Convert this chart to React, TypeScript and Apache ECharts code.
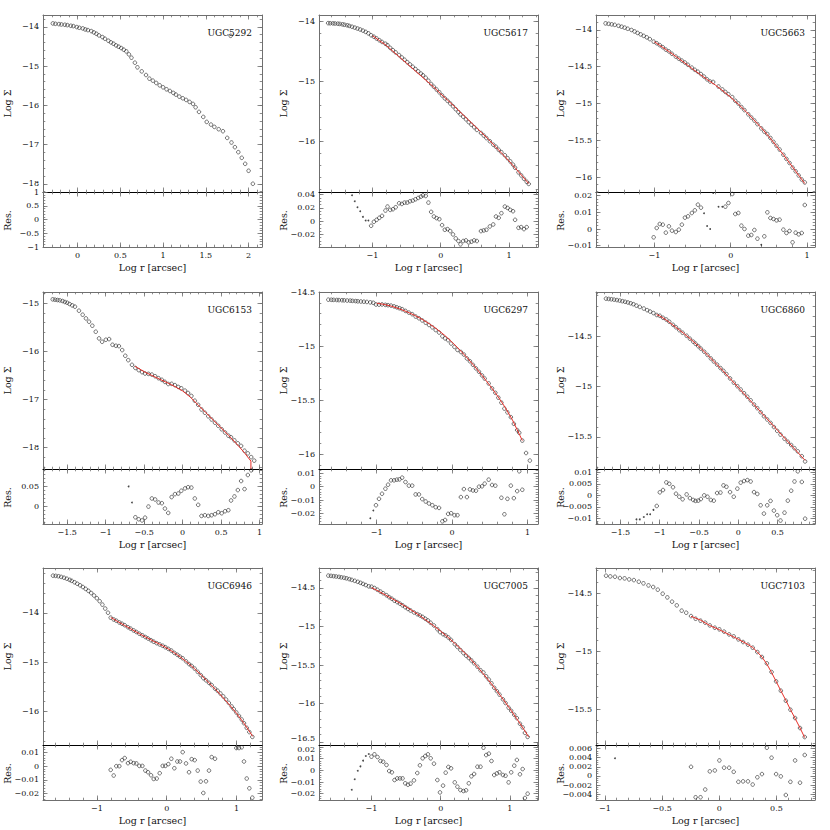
import { useEffect, useRef } from "react";
import * as echarts from "echarts";

type Pt = [number, number];

// ================= DATA (log r [arcsec], log Sigma) =================
const ugc5292Profile: Pt[] = [
  [-0.29,-13.915],[-0.26,-13.924],[-0.22,-13.932],[-0.19,-13.941],[-0.15,-13.949],[-0.12,-13.958],[-0.08,-13.975],[-0.05,-13.983],
  [-0.01,-14.008],[0.02,-14.025],[0.06,-14.042],[0.09,-14.068],[0.12,-14.085],[0.16,-14.11],[0.19,-14.144],[0.22,-14.178],
  [0.25,-14.22],[0.29,-14.263],[0.32,-14.305],[0.36,-14.356],[0.39,-14.398],[0.42,-14.432],[0.45,-14.475],[0.48,-14.508],
  [0.51,-14.542],[0.54,-14.585],[0.57,-14.627],[0.6,-14.703],[0.63,-14.788],[0.67,-14.915],[0.7,-15.034],[0.75,-15.136],
  [0.8,-15.229],[0.84,-15.322],[0.88,-15.373],[0.92,-15.432],[0.96,-15.492],[1.0,-15.542],[1.04,-15.593],[1.08,-15.636],
  [1.12,-15.686],[1.15,-15.729],[1.19,-15.78],[1.23,-15.822],[1.27,-15.864],[1.31,-15.915],[1.35,-15.966],[1.38,-16.051],
  [1.42,-16.169],[1.47,-16.297],[1.51,-16.424],[1.56,-16.492],[1.6,-16.551],[1.65,-16.61],[1.7,-16.661],[1.75,-16.831],
  [1.8,-16.949],[1.84,-17.068],[1.88,-17.195],[1.92,-17.339],[1.96,-17.492],[2.0,-17.669],[2.05,-18.0],
];
const ugc5292Stray: Pt[] = [[1.79, -14.23]];
const ugc5292XTicks = [0, 0.5, 1, 1.5, 2];
const ugc5292YTicks = [-14, -15, -16, -17, -18];
const ugc5292RTicks = [-1, -0.5, 0, 0.5, 1];

const ugc5617Profile: Pt[] = [
  [-1.65,-14.03],[-1.62,-14.032],[-1.58,-14.034],[-1.55,-14.036],[-1.51,-14.039],[-1.48,-14.043],[-1.44,-14.05],[-1.41,-14.057],
  [-1.37,-14.066],[-1.34,-14.076],[-1.3,-14.09],[-1.26,-14.105],[-1.22,-14.12],[-1.18,-14.136],[-1.14,-14.155],[-1.1,-14.176],
  [-1.06,-14.2],[-1.02,-14.232],[-0.98,-14.257],[-0.94,-14.286],[-0.9,-14.315],[-0.86,-14.344],[-0.81,-14.374],[-0.78,-14.398],
  [-0.74,-14.443],[-0.7,-14.482],[-0.66,-14.519],[-0.61,-14.563],[-0.57,-14.604],[-0.53,-14.642],[-0.49,-14.682],[-0.45,-14.72],
  [-0.41,-14.759],[-0.37,-14.797],[-0.33,-14.835],[-0.29,-14.873],[-0.26,-14.901],[-0.22,-14.942],[-0.18,-14.992],[-0.14,-15.046],
  [-0.1,-15.093],[-0.06,-15.139],[-0.02,-15.185],[0.02,-15.237],[0.06,-15.286],[0.1,-15.327],[0.14,-15.372],[0.18,-15.419],
  [0.22,-15.468],[0.26,-15.516],[0.29,-15.554],[0.33,-15.593],[0.37,-15.636],[0.41,-15.683],[0.45,-15.726],[0.49,-15.768],
  [0.53,-15.813],[0.59,-15.864],[0.63,-15.907],[0.67,-15.95],[0.72,-16.002],[0.77,-16.059],[0.81,-16.095],[0.85,-16.145],
  [0.89,-16.186],[0.94,-16.236],[0.98,-16.286],[1.02,-16.339],[1.06,-16.393],[1.09,-16.445],[1.14,-16.522],[1.18,-16.573],
  [1.22,-16.629],[1.26,-16.679],[1.29,-16.715],
];
const ugc5617Fit: Pt[] = [
  [-1.0,-14.24],[-0.9,-14.32],[-0.8,-14.4],[-0.7,-14.5],[-0.6,-14.6],[-0.5,-14.7],[-0.4,-14.8],[-0.3,-14.9],[-0.2,-15.0],
  [-0.1,-15.1],[0,-15.21],[0.1,-15.315],[0.2,-15.42],[0.3,-15.53],[0.4,-15.64],[0.5,-15.75],[0.6,-15.86],[0.7,-15.97],
  [0.8,-16.09],[0.9,-16.21],[1.0,-16.33],[1.1,-16.46],[1.2,-16.59],[1.29,-16.71],
];
const ugc5617Res: Pt[] = [
  [-1.02,-0.007],[-0.98,-0.001],[-0.94,0.002],[-0.9,0.005],[-0.86,0.008],[-0.81,0.016],[-0.78,0.022],[-0.74,0.017],[-0.7,0.018],
  [-0.66,0.021],[-0.61,0.027],[-0.57,0.026],[-0.53,0.028],[-0.49,0.028],[-0.45,0.03],[-0.41,0.031],[-0.37,0.033],[-0.33,0.035],
  [-0.29,0.037],[-0.26,0.039],[-0.22,0.038],[-0.18,0.028],[-0.14,0.014],[-0.1,0.007],[-0.06,0.0045],[-0.02,0.003],[0.02,-0.006],
  [0.06,-0.013],[0.1,-0.012],[0.14,-0.015],[0.18,-0.02],[0.22,-0.026],[0.26,-0.03],[0.29,-0.035],[0.33,-0.03],[0.37,-0.029],
  [0.41,-0.032],[0.45,-0.031],[0.49,-0.029],[0.53,-0.03],[0.59,-0.015],[0.63,-0.014],[0.67,-0.013],[0.72,-0.008],[0.77,-0.005],
  [0.81,0.007],[0.85,0.005],[0.89,0.012],[0.94,0.022],[0.98,0.02],[1.02,0.017],[1.06,0.015],[1.09,0.002],[1.14,-0.01],
  [1.18,-0.009],[1.22,-0.012],[1.26,-0.009],
];
const ugc5617ResOut: Pt[] = [[-1.3,0.039],[-1.26,0.03],[-1.22,0.021],[-1.18,0.015],[-1.14,0.0065],[-1.1,0.001],[-1.06,0.001]];
const ugc5617XTicks = [-1, 0, 1];
const ugc5617YTicks = [-14, -15, -16];
const ugc5617RTicks = [-0.02, 0, 0.02, 0.04];

const ugc5663Profile: Pt[] = [
  [-1.64,-13.91],[-1.6,-13.916],[-1.56,-13.923],[-1.52,-13.93],[-1.47,-13.943],[-1.43,-13.955],[-1.39,-13.968],[-1.35,-13.983],
  [-1.3,-14.0],[-1.26,-14.02],[-1.22,-14.04],[-1.18,-14.06],[-1.14,-14.08],[-1.1,-14.1],[-1.06,-14.124],[-1.01,-14.158],
  [-0.97,-14.18],[-0.93,-14.206],[-0.89,-14.234],[-0.85,-14.267],[-0.81,-14.291],[-0.77,-14.324],[-0.72,-14.362],[-0.68,-14.39],
  [-0.64,-14.417],[-0.6,-14.443],[-0.56,-14.474],[-0.51,-14.512],[-0.47,-14.542],[-0.43,-14.568],[-0.39,-14.6],[-0.35,-14.634],
  [-0.31,-14.671],[-0.27,-14.701],[-0.23,-14.707],[-0.16,-14.769],[-0.11,-14.809],[-0.07,-14.843],[-0.03,-14.874],[0.02,-14.913],
  [0.06,-14.963],[0.1,-15.0],[0.14,-15.048],[0.18,-15.09],[0.23,-15.147],[0.27,-15.191],[0.31,-15.232],[0.35,-15.281],
  [0.4,-15.339],[0.44,-15.382],[0.48,-15.416],[0.52,-15.469],[0.56,-15.522],[0.6,-15.575],[0.64,-15.626],[0.69,-15.697],
  [0.73,-15.754],[0.77,-15.809],[0.81,-15.872],[0.85,-15.922],[0.89,-15.979],[0.93,-16.034],[0.97,-16.074],
];
const ugc5663Fit: Pt[] = [
  [-1.0,-14.16],[-0.9,-14.23],[-0.8,-14.3],[-0.7,-14.375],[-0.6,-14.45],[-0.5,-14.53],[-0.4,-14.605],[-0.3,-14.68],[-0.2,-14.75],
  [-0.1,-14.83],[0,-14.915],[0.1,-15.01],[0.2,-15.11],[0.3,-15.22],[0.4,-15.33],[0.5,-15.45],[0.6,-15.58],[0.7,-15.71],
  [0.8,-15.85],[0.9,-15.99],[0.97,-16.088],
];
const ugc5663Res: Pt[] = [
  [-1.01,-0.005],[-0.97,0.0006],[-0.93,0.003],[-0.89,0.0026],[-0.85,-0.0022],[-0.81,0.0016],[-0.77,-0.001],[-0.72,-0.0018],
  [-0.68,-0.0004],[-0.64,0.0026],[-0.6,0.0068],[-0.56,0.0076],[-0.51,0.0096],[-0.47,0.0112],[-0.43,0.0146],[-0.39,0.0128],
  [-0.07,0.0134],[-0.03,0.0156],[0.02,0.021],[0.06,0.009],[0.1,0.0096],[0.14,0.002],[0.18,0],[0.23,-0.004],[0.27,-0.0036],
  [0.31,-0.0006],[0.35,-0.0058],[0.44,-0.0044],[0.48,0.01],[0.52,0.0066],[0.56,0.006],[0.6,0.0052],[0.64,0.0056],[0.69,-0.0004],
  [0.73,-0.0024],[0.77,-0.0012],[0.81,-0.008],[0.85,-0.0022],[0.89,-0.0032],[0.93,-0.0024],[0.97,0.0144],
];
const ugc5663ResOut: Pt[] = [[-0.35,0.0094],[-0.31,0.0018],[-0.27,0],[-0.23,0.0216],[-0.16,0.0134],[-0.11,0.0134],[0.4,-0.0094]];
const ugc5663XTicks = [-1, 0, 1];
const ugc5663YTicks = [-14, -14.5, -15, -15.5, -16];
const ugc5663RTicks = [-0.01, 0, 0.01, 0.02];

const ugc6153Profile: Pt[] = [
  [-1.688,-14.917],[-1.657,-14.924],[-1.626,-14.931],[-1.596,-14.938],[-1.561,-14.951],[-1.53,-14.972],[-1.5,-14.986],
  [-1.469,-15.014],[-1.434,-15.042],[-1.399,-15.069],[-1.347,-15.153],[-1.299,-15.236],[-1.256,-15.313],[-1.216,-15.382],
  [-1.173,-15.465],[-1.129,-15.59],[-1.086,-15.729],[-1.046,-15.799],[-0.998,-15.757],[-0.955,-15.743],[-0.911,-15.861],
  [-0.867,-15.882],[-0.828,-15.889],[-0.785,-15.972],[-0.745,-16.09],[-0.706,-16.181],[-0.658,-16.278],[-0.614,-16.343],
  [-0.571,-16.388],[-0.527,-16.431],[-0.488,-16.459],[-0.444,-16.466],[-0.4,-16.481],[-0.357,-16.515],[-0.313,-16.556],
  [-0.27,-16.59],[-0.23,-16.633],[-0.187,-16.677],[-0.143,-16.673],[-0.1,-16.7],[-0.056,-16.738],[-0.017,-16.766],
  [0.031,-16.815],[0.071,-16.864],[0.114,-16.925],[0.158,-17.024],[0.202,-17.11],[0.245,-17.207],[0.289,-17.275],
  [0.333,-17.348],[0.376,-17.415],[0.42,-17.482],[0.463,-17.546],[0.507,-17.618],[0.551,-17.685],[0.594,-17.75],
  [0.629,-17.785],[0.673,-17.849],[0.717,-17.91],[0.76,-17.964],[0.804,-18.064],[0.847,-18.119],[0.891,-18.197],[0.93,-18.27],
];
const ugc6153Fit: Pt[] = [
  [-0.62,-16.31],[-0.5,-16.42],[-0.4,-16.5],[-0.3,-16.575],[-0.2,-16.65],[-0.1,-16.73],[0,-16.82],[0.1,-16.95],[0.2,-17.11],
  [0.3,-17.27],[0.4,-17.43],[0.5,-17.59],[0.6,-17.75],[0.7,-17.92],[0.8,-18.1],[0.887,-18.28],[0.887,-18.44],
];
const ugc6153Res: Pt[] = [
  [-0.614,-0.028],[-0.571,-0.033],[-0.527,-0.036],[-0.488,-0.029],[-0.444,-0.001],[-0.4,0.0195],[-0.357,0.017],[-0.313,0.0093],
  [-0.27,0.0076],[-0.23,-0.006],[-0.187,-0.017],[-0.143,0.023],[-0.1,0.0305],[-0.056,0.032],[-0.017,0.039],[0.031,0.045],
  [0.071,0.048],[0.114,0.047],[0.158,0.0195],[0.202,0.0034],[0.245,-0.0246],[0.289,-0.0229],[0.333,-0.0246],[0.376,-0.0229],
  [0.42,-0.0203],[0.463,-0.0153],[0.507,-0.0178],[0.551,-0.0127],[0.594,-0.0102],[0.629,0.0144],[0.673,0.0246],[0.717,0.0407],
  [0.76,0.0636],[0.804,0.0432],[0.847,0.0788],[0.891,0.0907],
];
const ugc6153ResOut: Pt[] = [[-0.702,0.05],[-0.658,0.0093]];
const ugc6153XTicks = [-1.5, -1, -0.5, 0, 0.5, 1];
const ugc6153YTicks = [-15, -16, -17, -18];
const ugc6153RTicks = [0, 0.05];

const ugc6297Profile: Pt[] = [
  [-1.64,-14.571],[-1.6,-14.572],[-1.57,-14.573],[-1.53,-14.574],[-1.5,-14.575],[-1.46,-14.576],[-1.43,-14.577],[-1.39,-14.579],
  [-1.35,-14.58],[-1.32,-14.582],[-1.28,-14.584],[-1.25,-14.586],[-1.21,-14.588],[-1.17,-14.59],[-1.13,-14.592],[-1.084,-14.596],
  [-1.044,-14.6],[-1.009,-14.616],[-0.969,-14.617],[-0.929,-14.615],[-0.884,-14.619],[-0.849,-14.622],[-0.809,-14.626],
  [-0.769,-14.633],[-0.733,-14.642],[-0.698,-14.65],[-0.662,-14.659],[-0.618,-14.675],[-0.573,-14.691],[-0.529,-14.705],
  [-0.484,-14.727],[-0.44,-14.743],[-0.396,-14.763],[-0.351,-14.784],[-0.307,-14.805],[-0.262,-14.827],[-0.218,-14.852],
  [-0.173,-14.875],[-0.129,-14.91],[-0.093,-14.929],[-0.053,-14.946],[-0.013,-14.977],[0.031,-15.008],[0.071,-15.036],
  [0.116,-15.055],[0.156,-15.079],[0.196,-15.115],[0.236,-15.141],[0.276,-15.174],[0.316,-15.207],[0.356,-15.238],
  [0.396,-15.272],[0.431,-15.301],[0.484,-15.346],[0.529,-15.392],[0.573,-15.433],[0.613,-15.478],[0.653,-15.524],
  [0.693,-15.579],[0.733,-15.614],[0.778,-15.658],[0.818,-15.72],[0.862,-15.778],[0.89,-15.803],[0.93,-15.875],[0.98,-15.99],
  [1.03,-16.06],
];
const ugc6297Fit: Pt[] = [
  [-1.0,-14.603],[-0.9,-14.615],[-0.8,-14.632],[-0.7,-14.655],[-0.6,-14.683],[-0.5,-14.715],[-0.4,-14.752],[-0.3,-14.795],
  [-0.2,-14.845],[-0.1,-14.9],[0,-14.965],[0.1,-15.035],[0.2,-15.11],[0.3,-15.19],[0.4,-15.275],[0.5,-15.365],[0.6,-15.46],
  [0.7,-15.565],[0.8,-15.685],[0.9,-15.83],[0.93,-15.875],
];
const ugc6297Res: Pt[] = [
  [-1.009,-0.0139],[-0.969,-0.0091],[-0.929,-0.0053],[-0.884,-0.0015],[-0.849,0.0015],[-0.809,0.0048],[-0.769,0.0048],
  [-0.733,0.0053],[-0.698,0.0055],[-0.662,0.0068],[-0.618,0.0035],[-0.573,0.0008],[-0.529,0.0008],[-0.484,-0.0058],
  [-0.44,-0.0058],[-0.396,-0.0093],[-0.351,-0.0111],[-0.307,-0.0126],[-0.262,-0.0139],[-0.218,-0.0154],[-0.173,-0.0159],
  [-0.129,-0.026],[-0.093,-0.025],[-0.053,-0.0204],[-0.013,-0.0199],[0.031,-0.0214],[0.071,-0.0214],[0.116,-0.0078],
  [0.156,-0.0018],[0.196,-0.0078],[0.236,-0.002],[0.276,-0.0028],[0.316,-0.003],[0.356,0],[0.396,0.0003],[0.431,0.0023],
  [0.484,0.0053],[0.529,0.0013],[0.573,0.0008],[0.653,-0.0083],[0.693,-0.0207],[0.733,-0.0091],[0.778,0.0008],[0.818,-0.0086],
  [0.862,-0.0033],[0.89,0.0116],[0.93,-0.0023],
];
const ugc6297ResOut: Pt[] = [[-1.084,-0.0237],[-1.044,-0.0179]];
const ugc6297XTicks = [-1, 0, 1];
const ugc6297YTicks = [-14.5, -15, -15.5, -16];
const ugc6297RTicks = [-0.02, -0.01, 0, 0.01];

const ugc6860Profile: Pt[] = [
  [-1.684,-14.129],[-1.65,-14.132],[-1.615,-14.135],[-1.58,-14.139],[-1.545,-14.143],[-1.51,-14.148],[-1.475,-14.154],
  [-1.44,-14.16],[-1.405,-14.167],[-1.37,-14.175],[-1.335,-14.184],[-1.296,-14.198],[-1.254,-14.211],[-1.203,-14.227],
  [-1.16,-14.243],[-1.122,-14.257],[-1.08,-14.272],[-1.038,-14.291],[-0.999,-14.299],[-0.958,-14.319],[-0.916,-14.336],
  [-0.878,-14.358],[-0.831,-14.388],[-0.793,-14.413],[-0.751,-14.441],[-0.709,-14.467],[-0.658,-14.497],[-0.616,-14.526],
  [-0.574,-14.555],[-0.544,-14.576],[-0.51,-14.6],[-0.476,-14.625],[-0.434,-14.655],[-0.392,-14.687],[-0.35,-14.722],
  [-0.312,-14.752],[-0.27,-14.783],[-0.227,-14.817],[-0.189,-14.845],[-0.151,-14.877],[-0.105,-14.92],[-0.058,-14.962],
  [-0.012,-14.997],[0.03,-15.03],[0.073,-15.066],[0.115,-15.101],[0.157,-15.137],[0.2,-15.179],[0.242,-15.215],
  [0.284,-15.255],[0.326,-15.295],[0.368,-15.327],[0.41,-15.361],[0.453,-15.402],[0.495,-15.44],[0.537,-15.477],
  [0.588,-15.518],[0.63,-15.548],[0.673,-15.58],[0.715,-15.612],[0.757,-15.643],[0.808,-15.691],[0.85,-15.743],
];
const ugc6860Fit: Pt[] = [
  [-1.04,-14.287],[-1.0,-14.3],[-0.9,-14.35],[-0.8,-14.41],[-0.7,-14.47],[-0.6,-14.535],[-0.5,-14.605],[-0.4,-14.68],
  [-0.3,-14.76],[-0.2,-14.84],[-0.1,-14.925],[0,-15.01],[0.1,-15.095],[0.2,-15.18],[0.3,-15.265],[0.4,-15.35],[0.5,-15.435],
  [0.6,-15.52],[0.7,-15.605],[0.8,-15.69],[0.85,-15.733],
];
const ugc6860Res: Pt[] = [
  [-1.038,-0.0046],[-0.999,0.0013],[-0.958,0.0023],[-0.916,0.0056],[-0.878,0.005],[-0.831,0.0035],[-0.793,0.0007],
  [-0.751,-0.0006],[-0.709,-0.0017],[-0.658,0.0004],[-0.616,-0.0012],[-0.574,-0.002],[-0.544,-0.0024],[-0.51,-0.0023],
  [-0.476,-0.0016],[-0.434,0],[-0.392,-0.0006],[-0.35,-0.002],[-0.312,-0.0023],[-0.27,0.001],[-0.227,0.0012],[-0.189,0.0043],
  [-0.151,0.0037],[-0.105,0.0014],[-0.058,-0.0006],[-0.012,0.0029],[0.03,0.0055],[0.073,0.0062],[0.115,0.0066],[0.157,0.006],
  [0.2,0.0014],[0.242,0.0006],[0.284,-0.0043],[0.326,-0.0079],[0.368,-0.0043],[0.41,-0.0024],[0.453,-0.0066],[0.495,-0.0086],
  [0.537,-0.0109],[0.588,-0.0075],[0.63,-0.0023],[0.673,0.002],[0.715,0.006],[0.757,0.0104],[0.808,0.0058],[0.85,-0.0101],
];
const ugc6860ResOut: Pt[] = [[-1.296,-0.0104],[-1.254,-0.0104],[-1.203,-0.0094],[-1.16,-0.0082],[-1.122,-0.0082],[-1.08,-0.0063]];
const ugc6860XTicks = [-1.5, -1, -0.5, 0, 0.5];
const ugc6860YTicks = [-14.5, -15, -15.5];
const ugc6860RTicks = [-0.01, -0.005, 0, 0.005, 0.01];

const ugc6946Profile: Pt[] = [
  [-1.628,-13.241],[-1.59,-13.245],[-1.55,-13.253],[-1.51,-13.266],[-1.47,-13.283],[-1.43,-13.303],[-1.39,-13.326],
  [-1.36,-13.346],[-1.32,-13.375],[-1.28,-13.405],[-1.24,-13.437],[-1.2,-13.472],[-1.16,-13.51],[-1.12,-13.55],[-1.08,-13.595],
  [-1.04,-13.645],[-1.0,-13.7],[-0.96,-13.76],[-0.92,-13.83],[-0.88,-13.91],[-0.84,-13.995],[-0.802,-14.095],[-0.759,-14.132],
  [-0.721,-14.157],[-0.678,-14.193],[-0.64,-14.219],[-0.601,-14.248],[-0.554,-14.29],[-0.516,-14.319],[-0.473,-14.355],
  [-0.434,-14.386],[-0.391,-14.422],[-0.348,-14.454],[-0.305,-14.489],[-0.267,-14.519],[-0.224,-14.554],[-0.186,-14.584],
  [-0.143,-14.614],[-0.1,-14.64],[-0.057,-14.667],[-0.019,-14.696],[0.024,-14.73],[0.067,-14.765],[0.11,-14.812],
  [0.153,-14.85],[0.191,-14.888],[0.229,-14.922],[0.277,-14.983],[0.32,-15.039],[0.358,-15.078],[0.401,-15.132],
  [0.444,-15.197],[0.487,-15.263],[0.525,-15.325],[0.563,-15.369],[0.606,-15.421],[0.644,-15.467],[0.692,-15.538],
  [0.73,-15.582],[0.77,-15.638],[0.81,-15.696],[0.85,-15.76],[0.89,-15.829],[0.93,-15.901],[0.96,-15.955],[0.998,-16.024],
  [1.036,-16.095],[1.074,-16.167],[1.107,-16.242],[1.146,-16.336],[1.184,-16.422],[1.227,-16.52],
];
const ugc6946Fit: Pt[] = [
  [-0.8,-14.09],[-0.7,-14.175],[-0.6,-14.255],[-0.5,-14.335],[-0.4,-14.415],[-0.3,-14.49],[-0.2,-14.565],[-0.1,-14.635],
  [0,-14.71],[0.1,-14.8],[0.2,-14.9],[0.3,-15.01],[0.4,-15.135],[0.5,-15.27],[0.6,-15.41],[0.7,-15.555],[0.8,-15.71],
  [0.9,-15.87],[1.0,-16.04],[1.1,-16.23],[1.2,-16.44],[1.232,-16.51],
];
const ugc6946Res: Pt[] = [
  [-0.802,-0.0027],[-0.759,-0.0068],[-0.721,0],[-0.678,0],[-0.64,0.0044],[-0.601,0.0059],[-0.554,0.0022],[-0.516,0.0032],
  [-0.473,0.0022],[-0.434,0.002],[-0.391,0.0002],[-0.348,0.0002],[-0.305,-0.0032],[-0.267,-0.0044],[-0.224,-0.0066],
  [-0.186,-0.0093],[-0.143,-0.009],[-0.1,-0.0051],[-0.057,0.0002],[-0.019,0.0002],[0.024,0.0015],[0.067,0.0054],[0.11,-0.0015],
  [0.153,0.0034],[0.191,0.0034],[0.229,0.0102],[0.277,0.002],[0.32,-0.0044],[0.358,0.0051],[0.401,0.0044],[0.444,-0.0032],
  [0.487,-0.0112],[0.525,-0.0195],[0.563,-0.011],[0.606,-0.0032],[0.644,0.0066],[0.692,0.0054],[0.998,0.0132],[1.036,0.0132],
  [1.074,0.0137],[1.107,0.0034],[1.146,-0.009],[1.184,-0.0161],[1.227,-0.0229],
];
const ugc6946ResOut: Pt[] = [];
const ugc6946XTicks = [-1, 0, 1];
const ugc6946YTicks = [-14, -15, -16];
const ugc6946RTicks = [-0.02, -0.01, 0, 0.01];

const ugc7005Profile: Pt[] = [
  [-1.623,-14.34],[-1.585,-14.343],[-1.547,-14.347],[-1.51,-14.351],[-1.47,-14.356],[-1.435,-14.362],[-1.395,-14.368],
  [-1.36,-14.375],[-1.32,-14.385],[-1.285,-14.395],[-1.242,-14.407],[-1.198,-14.42],[-1.159,-14.433],[-1.121,-14.447],
  [-1.082,-14.462],[-1.039,-14.479],[-1.0,-14.483],[-0.957,-14.5],[-0.913,-14.523],[-0.87,-14.547],[-0.831,-14.568],
  [-0.783,-14.594],[-0.744,-14.619],[-0.705,-14.64],[-0.667,-14.665],[-0.628,-14.683],[-0.589,-14.703],[-0.551,-14.725],
  [-0.512,-14.749],[-0.473,-14.772],[-0.435,-14.792],[-0.386,-14.817],[-0.338,-14.839],[-0.3,-14.856],[-0.261,-14.875],
  [-0.222,-14.899],[-0.184,-14.921],[-0.145,-14.951],[-0.097,-14.986],[-0.048,-15.034],[-0.01,-15.072],[0.034,-15.099],
  [0.072,-15.116],[0.111,-15.141],[0.15,-15.173],[0.203,-15.228],[0.242,-15.265],[0.285,-15.304],[0.329,-15.344],
  [0.367,-15.377],[0.406,-15.407],[0.444,-15.439],[0.483,-15.476],[0.531,-15.52],[0.575,-15.566],[0.618,-15.596],
  [0.657,-15.645],[0.696,-15.687],[0.734,-15.736],[0.773,-15.793],[0.812,-15.837],[0.85,-15.882],[0.899,-15.943],
  [0.937,-15.991],[0.981,-16.051],[1.019,-16.092],[1.063,-16.143],[1.101,-16.187],[1.145,-16.259],[1.184,-16.307],
  [1.217,-16.378],[1.256,-16.43],
];
const ugc7005Fit: Pt[] = [
  [-1.0,-14.495],[-0.9,-14.54],[-0.8,-14.59],[-0.7,-14.64],[-0.6,-14.69],[-0.5,-14.745],[-0.4,-14.8],[-0.3,-14.86],
  [-0.2,-14.925],[-0.1,-14.99],[0,-15.06],[0.1,-15.135],[0.2,-15.215],[0.3,-15.3],[0.4,-15.39],[0.5,-15.49],[0.6,-15.595],
  [0.7,-15.705],[0.8,-15.82],[0.9,-15.94],[1.0,-16.065],[1.1,-16.195],[1.2,-16.33],[1.27,-16.43],
];
const ugc7005Res: Pt[] = [
  [-1.0,0.0117],[-0.957,0.0137],[-0.913,0.0114],[-0.87,0.008],[-0.831,0.0074],[-0.783,0.0046],[-0.744,-0.0006],[-0.705,-0.0017],
  [-0.667,-0.0083],[-0.628,-0.0069],[-0.589,-0.0069],[-0.551,-0.0069],[-0.512,-0.0111],[-0.473,-0.0123],[-0.435,-0.0114],
  [-0.386,-0.0086],[-0.338,-0.0023],[-0.3,0.0043],[-0.261,0.0103],[-0.222,0.0123],[-0.184,0.0137],[-0.145,0.0103],
  [-0.097,0.0057],[-0.048,-0.0083],[-0.01,-0.0189],[0.034,-0.0131],[0.072,-0.002],[0.111,0.0029],[0.15,0.0017],[0.203,-0.0103],
  [0.242,-0.014],[0.285,-0.0169],[0.329,-0.0177],[0.367,-0.0171],[0.406,-0.0111],[0.444,-0.0051],[0.483,-0.0031],[0.531,0.0031],
  [0.575,0.0031],[0.618,0.0194],[0.657,0.0131],[0.696,0.0143],[0.734,0.008],[0.773,-0.004],[0.812,-0.0026],[0.85,-0.0017],
  [0.899,-0.004],[0.937,-0.0046],[0.981,-0.0103],[1.019,-0.0017],[1.063,0.004],[1.101,0.0089],[1.145,-0.0034],[1.184,0.0011],
  [1.217,-0.0237],[1.256,-0.02],
];
const ugc7005ResOut: Pt[] = [[-1.285,-0.0166],[-1.242,-0.0077],[-1.198,-0.0003],[-1.159,0.0034],[-1.121,0.0083],[-1.082,0.0123],[-1.039,0.014]];
const ugc7005XTicks = [-1, 0, 1];
const ugc7005YTicks = [-14.5, -15, -15.5, -16, -16.5];
const ugc7005RTicks = [-0.02, -0.01, 0, 0.01, 0.02];

const ugc7103Profile: Pt[] = [
  [-0.99,-14.344],[-0.953,-14.35],[-0.912,-14.353],[-0.869,-14.364],[-0.828,-14.367],[-0.788,-14.376],[-0.747,-14.382],
  [-0.704,-14.396],[-0.663,-14.41],[-0.619,-14.428],[-0.578,-14.442],[-0.538,-14.465],[-0.495,-14.5],[-0.454,-14.532],
  [-0.413,-14.569],[-0.372,-14.601],[-0.329,-14.647],[-0.289,-14.665],[-0.247,-14.694],[-0.207,-14.717],[-0.164,-14.734],
  [-0.123,-14.751],[-0.083,-14.775],[-0.039,-14.795],[0.001,-14.809],[0.042,-14.829],[0.086,-14.853],[0.126,-14.87],
  [0.167,-14.896],[0.208,-14.919],[0.251,-14.942],[0.292,-14.968],[0.333,-15.006],[0.373,-15.049],[0.416,-15.104],
  [0.457,-15.179],[0.497,-15.26],[0.538,-15.341],[0.582,-15.428],[0.622,-15.506],[0.663,-15.578],[0.706,-15.665],[0.747,-15.743],
];
const ugc7103Fit: Pt[] = [
  [-0.247,-14.696],[-0.164,-14.729],[-0.083,-14.776],[0.001,-14.812],[0.086,-14.855],[0.167,-14.895],[0.251,-14.941],
  [0.292,-14.966],[0.333,-15.006],[0.373,-15.049],[0.416,-15.11],[0.457,-15.183],[0.497,-15.26],[0.538,-15.341],[0.582,-15.424],
  [0.622,-15.505],[0.663,-15.581],[0.706,-15.664],[0.747,-15.748],
];
const ugc7103Res: Pt[] = [
  [-0.247,0.002],[-0.207,-0.0047],[-0.164,-0.0047],[-0.123,-0.003],[-0.083,0.001],[-0.039,0.0012],[0.001,0.0034],[0.042,0.0018],
  [0.086,0.0018],[0.126,0.0009],[0.167,-0.0013],[0.208,-0.0012],[0.251,-0.0012],[0.292,-0.0019],[0.333,-0.0003],[0.373,0.0004],
  [0.416,0.0062],[0.457,0.004],[0.497,0.0004],[0.538,-0.0001],[0.582,-0.0042],[0.622,-0.0013],[0.663,0.0034],[0.706,-0.0015],
  [0.747,0.0046],
];
const ugc7103ResOut: Pt[] = [[-0.912, 0.0039]];
const ugc7103XTicks = [-1, -0.5, 0, 0.5];
const ugc7103YTicks = [-14.5, -15, -15.5];
const ugc7103RTicks = [-0.004, -0.002, 0, 0.002, 0.004, 0.006];

// ================= LAYOUT / STYLE =================
const FONT = "'DejaVu Serif', 'Liberation Serif', serif";
const FRAME = "#6f6f6f";
const DIVIDER = "#000";
const INK = "#111";
const RED = "#e8302a";
const COL_LEFT = [43, 319, 596];
const ROW_TOP = [15, 292, 568];
const PANEL_W = 219;
const MAIN_H = 177;
const RES_H = 55;

interface Panel {
  name: string;
  profile: Pt[];
  extra: Pt[];
  fit: Pt[];
  res: Pt[];
  resOut: Pt[];
  xRange: [number, number];
  yRange: [number, number];
  rRange: [number, number];
  xTicks: number[];
  xMinor: number;
  yTicks: number[];
  yMinor: number;
  rTicks: number[];
  rMinor: number;
  nudge?: boolean; // separate crowded labels at the main/residual junction
}

const panels: Panel[] = [
  { name: "UGC5292", profile: ugc5292Profile, extra: ugc5292Stray, fit: [], res: [], resOut: [],
    xRange: [-0.405, 2.157], yRange: [-18.21, -13.7], rRange: [-1, 1],
    xTicks: ugc5292XTicks, xMinor: 0.1, yTicks: ugc5292YTicks, yMinor: 0.2, rTicks: ugc5292RTicks, rMinor: 0.1 },
  { name: "UGC5617", profile: ugc5617Profile, extra: [], fit: ugc5617Fit, res: ugc5617Res, resOut: ugc5617ResOut,
    xRange: [-1.784, 1.426], yRange: [-16.85, -13.894], rRange: [-0.039, 0.044],
    xTicks: ugc5617XTicks, xMinor: 0.2, yTicks: ugc5617YTicks, yMinor: 0.2, rTicks: ugc5617RTicks, rMinor: 0.005 },
  { name: "UGC5663", profile: ugc5663Profile, extra: [], fit: ugc5663Fit, res: ugc5663Res, resOut: ugc5663ResOut,
    xRange: [-1.765, 1.104], yRange: [-16.204, -13.796], rRange: [-0.0108, 0.0222],
    xTicks: ugc5663XTicks, xMinor: 0.2, yTicks: ugc5663YTicks, yMinor: 0.1, rTicks: ugc5663RTicks, rMinor: 0.002 },
  { name: "UGC6153", profile: ugc6153Profile, extra: [], fit: ugc6153Fit, res: ugc6153Res, resOut: ugc6153ResOut,
    xRange: [-1.814, 1.031], yRange: [-18.444, -14.764], rRange: [-0.045, 0.094],
    xTicks: ugc6153XTicks, xMinor: 0.1, yTicks: ugc6153YTicks, yMinor: 0.2, rTicks: ugc6153RTicks, rMinor: 0.01 },
  { name: "UGC6297", profile: ugc6297Profile, extra: [], fit: ugc6297Fit, res: ugc6297Res, resOut: ugc6297ResOut,
    xRange: [-1.764, 1.138], yRange: [-16.138, -14.5], rRange: [-0.028, 0.0133],
    xTicks: ugc6297XTicks, xMinor: 0.2, yTicks: ugc6297YTicks, yMinor: 0.1, rTicks: ugc6297RTicks, rMinor: 0.002 },
  { name: "UGC6860", profile: ugc6860Profile, extra: [], fit: ugc6860Fit, res: ugc6860Res, resOut: ugc6860ResOut,
    xRange: [-1.811, 0.976], yRange: [-15.818, -14.063], rRange: [-0.0124, 0.0114],
    xTicks: ugc6860XTicks, xMinor: 0.1, yTicks: ugc6860YTicks, yMinor: 0.1, rTicks: ugc6860RTicks, rMinor: 0.001 },
  { name: "UGC6946", profile: ugc6946Profile, extra: [], fit: ugc6946Fit, res: ugc6946Res, resOut: ugc6946ResOut,
    xRange: [-1.771, 1.365], yRange: [-16.685, -13.085], rRange: [-0.0246, 0.0154],
    xTicks: ugc6946XTicks, xMinor: 0.2, yTicks: ugc6946YTicks, yMinor: 0.2, rTicks: ugc6946RTicks, rMinor: 0.002 },
  { name: "UGC7005", profile: ugc7005Profile, extra: [], fit: ugc7005Fit, res: ugc7005Res, resOut: ugc7005ResOut,
    xRange: [-1.758, 1.406], yRange: [-16.535, -14.241], rRange: [-0.0254, 0.0217],
    xTicks: ugc7005XTicks, xMinor: 0.2, yTicks: ugc7005YTicks, yMinor: 0.1, rTicks: ugc7005RTicks, rMinor: 0.002, nudge: true },
  { name: "UGC7103", profile: ugc7103Profile, extra: [], fit: ugc7103Fit, res: ugc7103Res, resOut: ugc7103ResOut,
    xRange: [-1.078, 0.837], yRange: [-15.812, -14.277], rRange: [-0.0053, 0.0068],
    xTicks: ugc7103XTicks, xMinor: 0.1, yTicks: ugc7103YTicks, yMinor: 0.1, rTicks: ugc7103RTicks, rMinor: 0.0005 },
];

function minorSteps(range: [number, number], step: number): number[] {
  const out: number[] = [];
  const k0 = Math.ceil(range[0] / step - 1e-6);
  const k1 = Math.floor(range[1] / step + 1e-6);
  for (let k = k0; k <= k1; k++) out.push(Number((k * step).toFixed(6)));
  return out;
}

const fmt = (v: number) => (Math.abs(v) < 1e-12 ? "0" : String(v).replace("-", "\u2212"));

const tick = (vals: number[], len: number) => ({
  show: true, inside: true, length: len, customValues: vals,
  lineStyle: { color: FRAME, width: 0.8 },
});
const line = (color: string, width: number) => ({
  show: true, onZero: false, lineStyle: { color, width },
});
const noLine = { show: false, onZero: false };
const richBase = { fontFamily: FONT, fontSize: 8, color: INK };
// edge: value whose label is moved away from the junction ("up" for main bottom, "down" for residual top)
const labelStyle = (vals: number[], edge?: { value: number; dir: "up" | "down" }) => ({
  show: true, customValues: vals, margin: 4,
  fontFamily: FONT, fontSize: 8, color: INK,
  formatter: (v: number) => {
    const s = fmt(v);
    if (edge && Math.abs(v - edge.value) < 1e-9) return `{${edge.dir}|${s}}`;
    return s;
  },
  rich: {
    up: { ...richBase, padding: [0, 0, 7, 0] },
    down: { ...richBase, padding: [5, 0, 0, 0] },
  },
});

// kind: "main" -> bottom edge is the black divider; "res" -> top edge is the divider (drawn once by main)
function xAxes(grid: number, range: [number, number], major: number[], minor: number[], kind: "main" | "res") {
  const base = { type: "value", gridIndex: grid, min: range[0], max: range[1], splitLine: { show: false }, silent: true };
  const bottomLine = kind === "main" ? line(DIVIDER, 1.2) : line(FRAME, 1);
  const topLine = kind === "main" ? line(FRAME, 1) : noLine;
  return [
    { ...base, position: "bottom", axisLine: bottomLine, axisTick: tick(major, 4.5),
      axisLabel: kind === "res" ? labelStyle(major) : { show: false } },
    { ...base, position: "bottom", axisLine: noLine, axisTick: tick(minor, 2.3), axisLabel: { show: false } },
    { ...base, position: "top", axisLine: topLine, axisTick: tick(major, 4.5), axisLabel: { show: false } },
    { ...base, position: "top", axisLine: noLine, axisTick: tick(minor, 2.3), axisLabel: { show: false } },
  ];
}

function yAxes(grid: number, range: [number, number], major: number[], minor: number[], edge?: { value: number; dir: "up" | "down" }) {
  const base = { type: "value", gridIndex: grid, min: range[0], max: range[1], splitLine: { show: false }, silent: true };
  return [
    { ...base, position: "left", axisLine: line(FRAME, 1), axisTick: tick(major, 4.5), axisLabel: labelStyle(major, edge) },
    { ...base, position: "left", axisLine: noLine, axisTick: tick(minor, 2.3), axisLabel: { show: false } },
    { ...base, position: "right", axisLine: line(FRAME, 1), axisTick: tick(major, 4.5), axisLabel: { show: false } },
    { ...base, position: "right", axisLine: noLine, axisTick: tick(minor, 2.3), axisLabel: { show: false } },
  ];
}

const ring = { color: "rgba(0,0,0,0)", borderColor: "#1a1a1a", borderWidth: 0.75 };

function buildOption() {
  const grid: any[] = [];
  const xAxis: any[] = [];
  const yAxis: any[] = [];
  const series: any[] = [];
  const graphic: any[] = [];
  panels.forEach((p, i) => {
    const left = COL_LEFT[i % 3];
    const top = ROW_TOP[Math.floor(i / 3)];
    const gMain = grid.length;
    grid.push({ left, top, width: PANEL_W, height: MAIN_H, containLabel: false });
    const gRes = grid.length;
    grid.push({ left, top: top + MAIN_H, width: PANEL_W, height: RES_H, containLabel: false });
    const xm = minorSteps(p.xRange, p.xMinor);
    const mainEdge = p.nudge ? { value: Math.min(...p.yTicks), dir: "up" as const } : undefined;
    const resEdge = p.nudge ? { value: Math.max(...p.rTicks), dir: "down" as const } : undefined;
    xAxis.push(...xAxes(gMain, p.xRange, p.xTicks, xm, "main"));
    yAxis.push(...yAxes(gMain, p.yRange, p.yTicks, minorSteps(p.yRange, p.yMinor), mainEdge));
    xAxis.push(...xAxes(gRes, p.xRange, p.xTicks, xm, "res"));
    yAxis.push(...yAxes(gRes, p.rRange, p.rTicks, minorSteps(p.rRange, p.rMinor), resEdge));
    const mi = gMain * 4;
    const ri = gRes * 4;
    series.push({ type: "scatter", xAxisIndex: mi, yAxisIndex: mi, data: p.profile, symbol: "circle", symbolSize: 3.6,
      itemStyle: ring, silent: true, z: 3 });
    if (p.extra.length)
      series.push({ type: "scatter", xAxisIndex: mi, yAxisIndex: mi, data: p.extra, symbolSize: 3.6, itemStyle: ring, silent: true, z: 3 });
    if (p.fit.length)
      series.push({ type: "line", xAxisIndex: mi, yAxisIndex: mi, data: p.fit, showSymbol: false, symbol: "none",
        lineStyle: { color: RED, width: 1 }, silent: true, z: 4 });
    if (p.res.length)
      series.push({ type: "scatter", xAxisIndex: ri, yAxisIndex: ri, data: p.res, symbolSize: 3.6, itemStyle: ring,
        silent: true, clip: true, z: 3 });
    if (p.resOut.length)
      series.push({ type: "scatter", xAxisIndex: ri, yAxisIndex: ri, data: p.resOut, symbolSize: 1.8,
        itemStyle: { color: "#1a1a1a" }, silent: true, clip: true, z: 3 });

    const txt = (x: number, y: number, text: string, size: number, align: string, rot = 0) => ({
      type: "text", x, y, rotation: rot, silent: true,
      style: { text, fontFamily: FONT, fontSize: size, fill: INK, align, verticalAlign: "middle",
        textAlign: align, textVerticalAlign: "middle" },
    });
    graphic.push(txt(left + PANEL_W - 10, top + 18, p.name, 9, "right"));
    graphic.push(txt(left - 36, top + MAIN_H / 2, "Log \u03A3", 9.5, "center", Math.PI / 2));
    graphic.push(txt(left - 36, top + MAIN_H + RES_H / 2 + 1, "Res.", 9.5, "center", Math.PI / 2));
    graphic.push(txt(left + PANEL_W / 2, top + MAIN_H + RES_H + 20, "Log r [arcsec]", 9.5, "center"));
  });
  return {
    animation: false,
    backgroundColor: "#fff",
    textStyle: { fontFamily: FONT },
    grid, xAxis, yAxis, series, graphic,
  };
}

export default function App() {
  const ref = useRef<HTMLDivElement>(null);
  useEffect(() => {
    if (!ref.current) return;
    const chart = echarts.init(ref.current, null, { renderer: "svg" });
    chart.setOption(buildOption() as any);
    return () => chart.dispose();
  }, []);
  return (
    <div
      ref={ref}
      style={{ position: "absolute", left: 0, top: 0, width: 830, height: 830, background: "#fff" }}
    />
  );
}
